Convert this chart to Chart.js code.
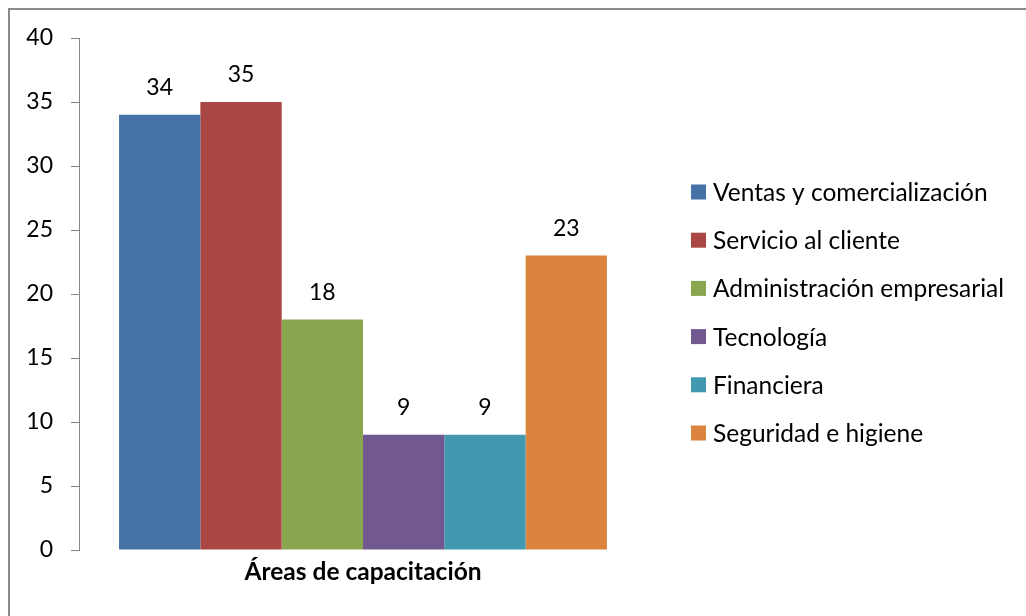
<!DOCTYPE html>
<html>
<head>
<meta charset="utf-8">
<script src="https://cdn.jsdelivr.net/npm/chart.js@4"></script>
<style>
  html, body { margin: 0; padding: 0; background: #fff; }
  #wrap { width: 1026px; height: 616px; position: relative; }
</style>
</head>
<body>
<div id="wrap"><canvas id="c" width="1026" height="616"></canvas></div>
<script>
const categories = ['Áreas de capacitación'];
const seriesNames = ['Ventas y comercialización', 'Servicio al cliente', 'Administración empresarial', 'Tecnología', 'Financiera', 'Seguridad e higiene'];
const seriesValues = [34, 35, 18, 9, 9, 23];
const seriesColors = ['#4572A7', '#AA4643', '#89A54E', '#71588F', '#4198AF', '#DB843D'];
const yTicks = [0, 5, 10, 15, 20, 25, 30, 35, 40];

const FONT = 'Lato, "Open Sans", sans-serif';
const AXIS = '#868686';

const datasets = seriesNames.map((n, i) => ({
  label: n,
  data: [seriesValues[i]],
  backgroundColor: seriesColors[i],
  borderWidth: 0,
  barPercentage: 1,
  categoryPercentage: 0.859
}));

const frame = {
  id: 'frame',
  beforeDraw(chart) {
    const ctx = chart.ctx;
    ctx.save();
    ctx.fillStyle = '#8a8a8a';
    ctx.fillRect(8, 8, chart.width - 8, 2);
    ctx.fillRect(8, 8, 2, chart.height - 8);
    ctx.restore();
  }
};

const valueLabels = {
  id: 'valueLabels',
  afterDatasetsDraw(chart) {
    const ctx = chart.ctx;
    ctx.save();
    ctx.font = '23px ' + FONT;
    ctx.fillStyle = '#000';
    ctx.textAlign = 'center';
    ctx.textBaseline = 'middle';
    chart.data.datasets.forEach((ds, i) => {
      const meta = chart.getDatasetMeta(i);
      meta.data.forEach((bar, j) => {
        ctx.fillText(String(ds.data[j]), bar.x, bar.y - 27);
      });
    });
    ctx.restore();
  }
};

const sideLegend = {
  id: 'sideLegend',
  afterDraw(chart) {
    const ctx = chart.ctx;
    ctx.save();
    ctx.font = '24.5px ' + FONT;
    ctx.textBaseline = 'middle';
    ctx.textAlign = 'left';
    chart.data.datasets.forEach((ds, i) => {
      const cy = 192 + i * 48.2;
      ctx.fillStyle = ds.backgroundColor;
      ctx.fillRect(691, cy - 7.5, 15, 15);
      ctx.fillStyle = '#000';
      ctx.fillText(ds.label, 713, cy + 1);
    });
    ctx.restore();
  }
};

new Chart(document.getElementById('c'), {
  type: 'bar',
  data: { labels: categories, datasets },
  options: {
    responsive: false,
    animation: false,
    layout: { padding: { left: 0, right: 379, top: 38, bottom: 0 } },
    plugins: { legend: { display: false }, tooltip: { enabled: false } },
    scales: {
      x: {
        grid: { display: false, drawTicks: false },
        border: { display: false },
        ticks: {
          color: '#000',
          padding: 7,
          font: { family: FONT, size: 24.5, weight: 'bold' }
        },
        afterFit(s) { s.height = 66; }
      },
      y: {
        min: 0,
        max: 40,
        afterBuildTicks(s) { s.ticks = yTicks.map(v => ({ value: v })); },
        grid: { display: true, drawOnChartArea: false, drawTicks: true, tickLength: 8, color: AXIS, lineWidth: 1 },
        border: { display: true, color: AXIS, width: 1 },
        ticks: {
          color: '#000',
          padding: 18,
          font: { family: FONT, size: 23 }
        },
        afterFit(s) { s.width = 79; }
      }
    }
  },
  plugins: [frame, valueLabels, sideLegend]
});
</script>
</body>
</html>
